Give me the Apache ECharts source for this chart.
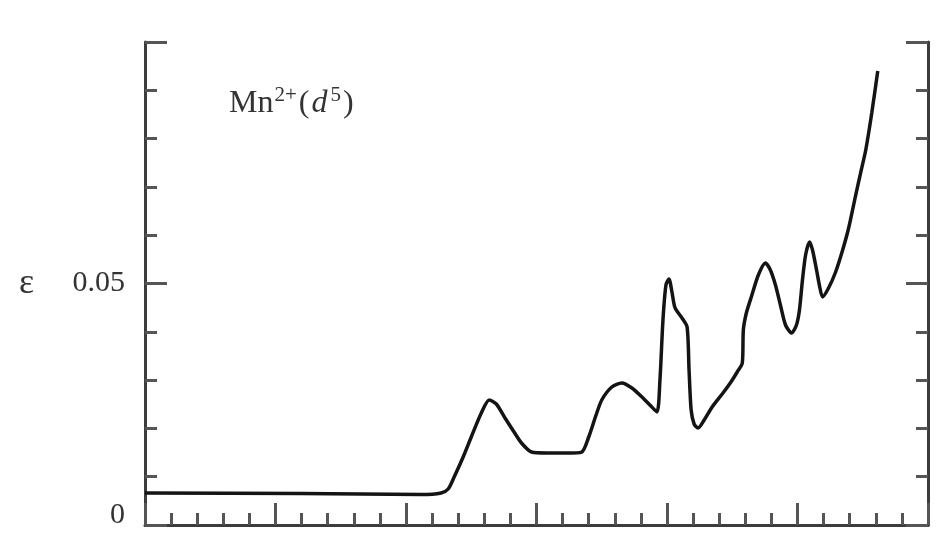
<!DOCTYPE html>
<html>
<head>
<meta charset="utf-8">
<script src="https://cdn.jsdelivr.net/npm/echarts@6/dist/echarts.min.js"></script>
<style>
  html, body { margin: 0; padding: 0; background: #fff; }
  #chart { width: 951px; height: 546px; }
</style>
</head>
<body>
<div id="chart"></div>
<script>
// Wavenumber-like position (arbitrary units, major tick = 1)
const xValues = [0.0, 1.192, 2.115, 2.269, 2.323, 2.369, 2.438, 2.500, 2.577, 2.638, 2.692, 2.754, 2.823, 2.885, 2.962,
  3.077, 3.231, 3.346, 3.400, 3.454, 3.500, 3.577, 3.654, 3.731, 3.808, 3.869, 3.923, 3.946, 3.969, 3.992,
  4.015, 4.038, 4.062, 4.115, 4.154, 4.169, 4.185, 4.208, 4.238, 4.285, 4.346, 4.423, 4.485, 4.538, 4.577,
  4.585, 4.608, 4.646, 4.700, 4.754, 4.792, 4.831, 4.869, 4.908, 4.954, 4.992, 5.015, 5.038, 5.062, 5.092,
  5.115, 5.146, 5.169, 5.192, 5.238, 5.292, 5.346, 5.392, 5.446, 5.485, 5.523, 5.569, 5.615];
// Molar absorptivity epsilon
const epsValues = [0.00663, 0.00652, 0.00631, 0.00663, 0.00745, 0.00994, 0.01408, 0.01822, 0.02319, 0.02588, 0.02505, 0.02236, 0.01946, 0.01698, 0.01511,
  0.01491, 0.01491, 0.01511, 0.01822, 0.02257, 0.02588, 0.02857, 0.02940, 0.02836, 0.02650, 0.02484, 0.02340, 0.03002, 0.04244, 0.04969,
  0.05093, 0.04824, 0.04493, 0.04286, 0.04099, 0.03209, 0.02381, 0.02091, 0.02008, 0.02174, 0.02443, 0.02712, 0.02940, 0.03168, 0.03354,
  0.04037, 0.04389, 0.04720, 0.05176, 0.05424, 0.05280, 0.04969, 0.04555, 0.04141, 0.03975, 0.04141, 0.04451, 0.05072, 0.05590, 0.05859,
  0.05694, 0.05280, 0.04948, 0.04720, 0.04907, 0.05238, 0.05694, 0.06149, 0.06832, 0.07308, 0.07764, 0.08530, 0.09400];
const yTickLabels = ['0', '0.05'];

const seriesData = xValues.map((x, i) => [x, epsValues[i]]);
const serif = '"Liberation Serif", "DejaVu Serif", serif';
const axisColor = '#3c3c3c';
const tickColor = '#555';

const chart = echarts.init(document.getElementById('chart'));
const yAxisBase = {
  type: 'value', min: 0, max: 0.1, interval: 0.05,
  splitLine: { show: false },
  minorSplitLine: { show: false },
  axisLine: { show: true, lineStyle: { color: axisColor, width: 3 } },
  axisTick: { show: true, inside: true, length: 22, lineStyle: { color: tickColor, width: 3 } },
  minorTick: { show: true, splitNumber: 5, length: 12, lineStyle: { color: tickColor, width: 3 } }
};
chart.setOption({
  animation: false,
  backgroundColor: '#fff',
  title: {
    left: 224, top: 80,
    text: '{a|Mn}{s|2+}{a|(}{i|d}{s|5}{a|)}',
    textStyle: {
      rich: {
        a: { fontFamily: serif, fontSize: 32, fontWeight: 'normal', color: '#333', lineHeight: 38 },
        i: { fontFamily: serif, fontSize: 32, fontWeight: 'normal', color: '#333', fontStyle: 'italic', lineHeight: 38, padding: [0, 2, 0, 2] },
        s: { fontFamily: serif, fontSize: 21, fontWeight: 'normal', color: '#333', verticalAlign: 'top', lineHeight: 22, padding: [0, 2, 0, 1] }
      }
    }
  },
  grid: { left: 145, right: 23, top: 42, bottom: 21 },
  xAxis: {
    type: 'value', min: 0, max: 6, interval: 1,
    splitLine: { show: false },
    axisLabel: { show: false },
    axisLine: { show: true, onZero: false, lineStyle: { color: axisColor, width: 3 } },
    axisTick: { show: true, inside: true, length: 22, lineStyle: { color: tickColor, width: 3 } },
    minorTick: { show: true, splitNumber: 5, length: 12, lineStyle: { color: tickColor, width: 3 } }
  },
  yAxis: [
    Object.assign({}, yAxisBase, {
      position: 'left',
      name: 'ε', nameLocation: 'middle', nameGap: 111, nameRotate: 0,
      nameTextStyle: { fontFamily: serif, fontSize: 36, color: '#333', padding: [8, 0, 0, 0] },
      axisLabel: {
        show: true, margin: 20, fontFamily: serif, fontSize: 30, color: '#333',
        formatter: function (v) {
          if (Math.abs(v) < 1e-9) return '{z|' + yTickLabels[0] + '}';
          if (Math.abs(v - 0.05) < 1e-9) return yTickLabels[1];
          return '';
        },
        rich: { z: { fontFamily: serif, fontSize: 30, color: '#333', padding: [0, 0, 20, 0] } }
      }
    }),
    Object.assign({}, yAxisBase, {
      position: 'right',
      axisLabel: { show: false }
    })
  ],
  series: [{
    type: 'line',
    data: seriesData,
    yAxisIndex: 0,
    showSymbol: false,
    smooth: 0.25,
    lineStyle: { color: '#141414', width: 3.5 }
  }]
});
</script>
</body>
</html>
